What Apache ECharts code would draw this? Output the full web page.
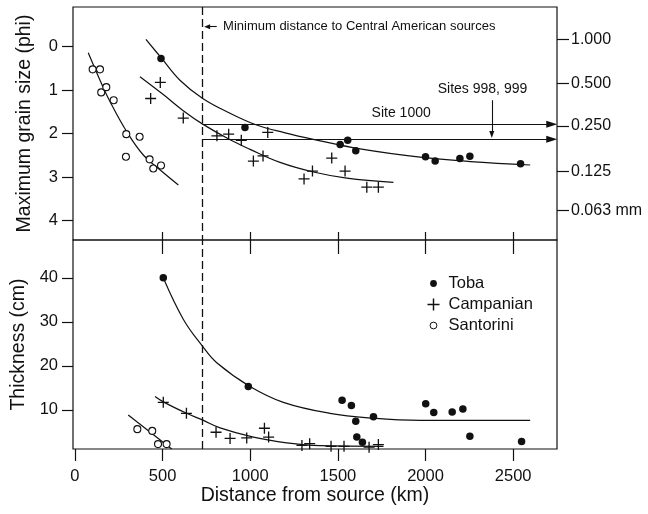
<!DOCTYPE html>
<html>
<head>
<meta charset="utf-8">
<script src="https://cdn.jsdelivr.net/npm/echarts@6/dist/echarts.min.js"></script>
<style>
  html, body { margin: 0; padding: 0; background: #fff; }
  #chart { width: 648px; height: 514px; }
</style>
</head>
<body>
<div id="chart"></div>
<script>
// ---- data (distance km, grain size phi / thickness cm) ----
const tobaGrain = [[491, 0.27], [970, 1.86], [1513, 2.25], [1556, 2.15], [1602, 2.39],
  [2000, 2.53], [2055, 2.63], [2196, 2.57], [2253, 2.52], [2542, 2.69]];
const campGrain = [[432, 1.19], [487, 0.82], [618, 1.64], [810, 2.05], [877, 2.01],
  [949, 2.15], [1100, 1.97], [1018, 2.63], [1073, 2.51], [1307, 3.04], [1355, 2.86],
  [1465, 2.56], [1541, 2.86], [1665, 3.23], [1731, 3.23]];
const santGrain = [[101, 0.52], [143, 0.52], [150, 1.05], [179, 0.93], [221, 1.23],
  [293, 2.01], [369, 2.07], [291, 2.53], [426, 2.59], [447, 2.80], [491, 2.73]];

const tobaGrainFit = [[405, -0.17], [495, 0.27], [599, 0.77], [729, 1.19], [885, 1.53],
  [1037, 1.80], [1199, 1.98], [1360, 2.13], [1627, 2.35], [1969, 2.54], [2255, 2.64], [2597, 2.72]];
const campGrainFit = [[371, 0.69], [504, 1.10], [618, 1.47], [729, 1.78], [885, 2.14],
  [999, 2.36], [1170, 2.66], [1360, 2.88], [1551, 3.02], [1817, 3.12]];
const santGrainFit = [[76, 0.14], [143, 0.77], [200, 1.26], [295, 1.95], [390, 2.49],
  [485, 2.83], [590, 3.18]];

const tobaThick = [[504, 40.0], [989, 15.3], [1524, 12.2], [1577, 11.0], [1602, 7.4],
  [1703, 8.4], [1608, 3.8], [1640, 2.6], [2001, 11.4], [2047, 9.4], [2152, 9.5],
  [2213, 10.2], [2253, 4.0], [2548, 2.8]];
const campThick = [[504, 11.7], [636, 9.2], [805, 4.9], [885, 3.5], [980, 3.6],
  [1081, 5.8], [1105, 3.8], [1295, 1.9], [1339, 2.3], [1461, 1.7], [1535, 1.7],
  [1678, 1.5], [1731, 2.1]];
const santThick = [[356, 5.6], [441, 5.2], [474, 2.2], [523, 2.2]];

const tobaThickFit = [[504, 40.0], [618, 30.6], [727, 24.5], [809, 20.7], [999, 15.3],
  [1189, 11.7], [1455, 9.2], [1700, 8.1], [1969, 7.6], [2597, 7.6]];
const campThickFit = [[457, 13.0], [504, 11.8], [637, 9.2], [727, 7.7], [828, 5.9],
  [1018, 3.8], [1208, 2.5], [1398, 1.85], [1760, 1.7]];
const santThickFit = [[304, 8.8], [552, 1.1]];

const minDistance = 727;          // dashed line, km
const site1000Phi = 1.78;
const site998Phi = 2.13;

const xTicks = [0, 500, 1000, 1500, 2000, 2500];
const phiTicks = [0, 1, 2, 3, 4];
const mmTickPhi = [-0.17, 0.84, 1.82, 2.86, 3.77];
const mmLabels = ['1.000', '0.500', '0.250', '0.125', '0.063 mm'];
const thickTicks = [10, 20, 30, 40];

const FONT = '"Liberation Sans", Arial, Helvetica, sans-serif';
const INK = '#111';
const PLUS = 'path://M4.4,0H5.6V4.4H10V5.6H5.6V10H4.4V5.6H0V4.4H4.4Z';
const DOT = 'path://M0,0M12,12M9.4,6A3.4,3.4,0,1,1,2.6,6A3.4,3.4,0,1,1,9.4,6Z';

const chart = echarts.init(document.getElementById('chart'), null, { renderer: 'canvas' });

const tickLabel = { color: INK, fontFamily: FONT, fontSize: 16.5 };
const nameStyle = { color: INK, fontFamily: FONT, fontSize: 19.5 };
const plain = function (v) { return String(v); };

function fitLine(name, data, xi, yi, extra) {
  return Object.assign({
    name: name, type: 'line', xAxisIndex: xi, yAxisIndex: yi, data: data,
    smooth: 0.4, showSymbol: false, symbol: 'none', silent: true,
    lineStyle: { color: INK, width: 1.2 }, z: 2
  }, extra || {});
}

function scatter(name, data, xi, yi, kind) {
  const s = {
    name: name, type: 'scatter', xAxisIndex: xi, yAxisIndex: yi, data: data, z: 5
  };
  if (kind === 'dot') {
    s.symbol = 'circle'; s.symbolSize = 7.5;
    s.itemStyle = { color: INK, opacity: 1 };
  } else if (kind === 'plus') {
    s.symbol = PLUS; s.symbolSize = 11;
    s.itemStyle = { color: INK, opacity: 1 };
  } else {
    s.symbol = 'circle'; s.symbolSize = 7;
    s.itemStyle = { color: '#fff', borderColor: INK, borderWidth: 1.1, opacity: 1 };
  }
  return s;
}

const arrowLine = { color: INK, width: 1.1, type: 'solid' };

const option = {
  animation: false,
  backgroundColor: '#fff',
  textStyle: { fontFamily: FONT, color: INK },
  grid: [
    { left: 73, width: 484, top: 7, height: 233, show: true, borderColor: INK, borderWidth: 1.2, backgroundColor: 'transparent' },
    { left: 73, width: 484, top: 240, height: 209, show: true, borderColor: INK, borderWidth: 1.2, backgroundColor: 'transparent' }
  ],
  legend: {
    orient: 'vertical', left: 422, top: 270,
    itemWidth: 20, itemHeight: 12, itemGap: 4,
    textStyle: { color: INK, fontFamily: FONT, fontSize: 16.5, lineHeight: 17 },
    data: [
      { name: 'Toba', icon: DOT, itemStyle: { color: INK, borderWidth: 0, opacity: 1 } },
      { name: 'Campanian', icon: PLUS, itemStyle: { color: INK, borderWidth: 0, opacity: 1 } },
      { name: 'Santorini', icon: DOT, itemStyle: { color: '#fff', borderColor: INK, borderWidth: 1, opacity: 1 } }
    ]
  },
  xAxis: [
    {
      gridIndex: 0, type: 'value', min: -11, max: 2750, position: 'bottom',
      splitLine: { show: false }, axisLine: { show: false, onZero: false },
      axisTick: { show: true, inside: true, length: 8, customValues: xTicks.slice(1), lineStyle: { color: INK, width: 1.2 } },
      axisLabel: { show: false }
    },
    {
      gridIndex: 1, type: 'value', min: -11, max: 2750, position: 'bottom',
      name: 'Distance from source (km)', nameLocation: 'middle', nameGap: 29, nameTextStyle: nameStyle,
      splitLine: { show: false }, axisLine: { show: false, onZero: false },
      axisTick: { show: true, length: 12, customValues: xTicks, lineStyle: { color: INK, width: 1.2 } },
      axisLabel: Object.assign({ customValues: xTicks, margin: 19, formatter: plain }, tickLabel)
    },
    {
      gridIndex: 1, type: 'value', min: -11, max: 2750, position: 'top',
      splitLine: { show: false }, axisLine: { show: false, onZero: false },
      axisTick: { show: true, inside: true, length: 14, customValues: xTicks.slice(1), lineStyle: { color: INK, width: 1.2 } },
      axisLabel: { show: false }
    }
  ],
  yAxis: [
    {
      gridIndex: 0, type: 'value', inverse: true, min: -0.913, max: 4.444, position: 'left',
      name: 'Maximum grain size (phi)', nameLocation: 'middle', nameGap: 38, nameTextStyle: nameStyle,
      splitLine: { show: false }, axisLine: { show: false, onZero: false },
      axisTick: { show: true, length: 11, customValues: phiTicks, lineStyle: { color: INK, width: 1.2 } },
      axisLabel: Object.assign({ customValues: phiTicks, margin: 15, formatter: plain }, tickLabel)
    },
    {
      gridIndex: 0, type: 'value', inverse: true, min: -0.913, max: 4.444, position: 'right',
      splitLine: { show: false }, axisLine: { show: false, onZero: false },
      axisTick: { show: true, length: 12, customValues: mmTickPhi, lineStyle: { color: INK, width: 1.2 } },
      axisLabel: Object.assign({
        customValues: mmTickPhi, margin: 14,
        formatter: function (v) {
          let best = 0;
          mmTickPhi.forEach(function (p, i) { if (Math.abs(p - v) < Math.abs(mmTickPhi[best] - v)) best = i; });
          return mmLabels[best];
        }
      }, tickLabel, { fontSize: 16 })
    },
    {
      gridIndex: 1, type: 'value', min: 1.09, max: 48.6, position: 'left',
      name: 'Thickness (cm)', nameLocation: 'middle', nameGap: 38, nameTextStyle: nameStyle,
      splitLine: { show: false }, axisLine: { show: false, onZero: false },
      axisTick: { show: true, length: 11, customValues: thickTicks, lineStyle: { color: INK, width: 1.2 } },
      axisLabel: Object.assign({ customValues: thickTicks, margin: 15, formatter: plain }, tickLabel)
    }
  ],
  series: [
    fitLine('Toba fit', tobaGrainFit, 0, 0, {
      markLine: {
        silent: true, symbol: 'none', label: { show: false },
        lineStyle: { color: INK, width: 1.3, type: [8, 4] },
        data: [{ xAxis: minDistance }]
      }
    }),
    fitLine('Campanian fit', campGrainFit, 0, 0, {
      markLine: {
        silent: true, label: { show: false }, symbol: ['none', 'triangle'], symbolSize: [7, 11],
        lineStyle: arrowLine,
        data: [
          [{ coord: [minDistance, site1000Phi] }, { coord: [2720, site1000Phi] }],
          [{ coord: [minDistance, site998Phi] }, { coord: [2720, site998Phi] }],
          [{ coord: [2378, 1.23], symbolSize: [5, 7] }, { coord: [2378, 2.02], symbolSize: [5, 7] }],
          [{ coord: [809, -0.46], symbolSize: [5, 6] }, { coord: [754, -0.46], symbolSize: [5, 6] }]
        ]
      },
      markPoint: {
        silent: true, symbol: 'circle', symbolSize: 0,
        label: { show: true, color: INK, fontFamily: FONT, fontSize: 14, position: 'inside' },
        data: [
          { coord: [1861, 1.52], value: 'Site 1000', label: { formatter: 'Site 1000' } },
          { coord: [2325, 0.97], value: 'Sites 998, 999', label: { formatter: 'Sites 998, 999' } },
          { coord: [845, -0.47], value: 'm', label: { position: 'right', distance: 0, fontSize: 13, formatter: 'Minimum distance to Central American sources' } }
        ]
      }
    }),
    fitLine('Santorini fit', santGrainFit, 0, 0),
    scatter('Toba', tobaGrain, 0, 0, 'dot'),
    scatter('Campanian', campGrain, 0, 0, 'plus'),
    scatter('Santorini', santGrain, 0, 0, 'ring'),

    fitLine('Toba thickness fit', tobaThickFit, 1, 2, {
      markLine: {
        silent: true, symbol: 'none', label: { show: false },
        lineStyle: { color: INK, width: 1.3, type: [8, 4] },
        data: [{ xAxis: minDistance }]
      }
    }),
    fitLine('Campanian thickness fit', campThickFit, 1, 2),
    fitLine('Santorini thickness fit', santThickFit, 1, 2, { smooth: false }),
    scatter('Toba', tobaThick, 1, 2, 'dot'),
    scatter('Campanian', campThick, 1, 2, 'plus'),
    scatter('Santorini', santThick, 1, 2, 'ring')
  ]
};

chart.setOption(option);
</script>
</body>
</html>
